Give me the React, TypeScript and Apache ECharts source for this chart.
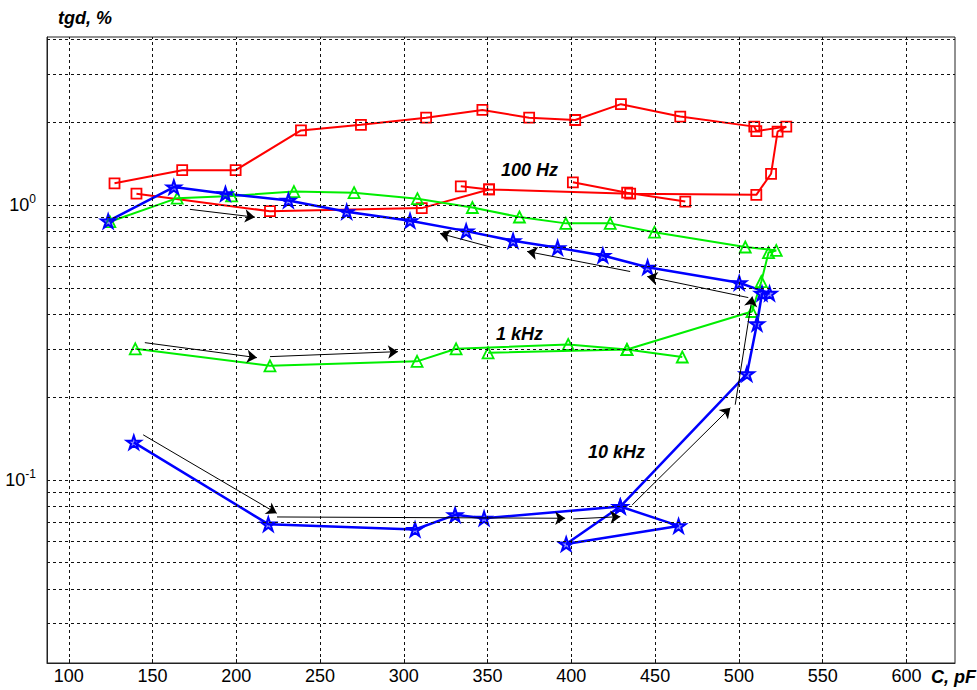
import React, { useEffect, useRef } from "react";
import * as echarts from "echarts";

// ---- axis ticks / grid values ----
const xTickValues = [100, 150, 200, 250, 300, 350, 400, 450, 500, 550, 600];
const yGridValues = [0.03, 0.04, 0.05, 0.06, 0.07, 0.08, 0.09, 0.1, 0.2, 0.3, 0.4, 0.5, 0.6, 0.7, 0.8, 0.9, 1, 2, 3, 4];

// ---- 100 Hz (red squares) ----
const red100HzMain: [number, number][] = [
  [127.3, 1.2], [167.7, 1.34], [199.6, 1.34], [238.6, 1.87], [274.4, 1.96], [313.3, 2.08],
  [346.9, 2.22], [374.8, 2.08], [402.3, 2.04], [429.6, 2.33], [465, 2.1], [509.2, 1.93],
  [510.4, 1.86], [528.3, 1.93], [523.1, 1.85], [519.2, 1.3], [510.4, 1.09], [435.1, 1.1],
  [350.9, 1.14], [334, 1.17],
];
const red100HzLow: [number, number][] = [
  [140.4, 1.1], [220.1, 0.95], [310.7, 0.975], [350.9, 1.14],
];
const red100HzTail: [number, number][] = [
  [400.9, 1.21], [433.3, 1.11], [468, 1.03],
];

// ---- 1 kHz (green triangles) ----
const green1kHzMain: [number, number][] = [
  [124.5, 0.87], [164.7, 1.06], [197.2, 1.08], [234.4, 1.12], [270.3, 1.11], [308.1, 1.055],
  [340.9, 0.98], [369, 0.905], [396.7, 0.858], [423.2, 0.858], [449.6, 0.797], [503.8, 0.704],
  [522.3, 0.684], [517.7, 0.672], [513.4, 0.527], [507.8, 0.41], [433.2, 0.298], [398.1, 0.311],
  [331.2, 0.3], [307.9, 0.27], [220.1, 0.26], [139.7, 0.3],
];
const green1kHzTail: [number, number][] = [
  [350.3, 0.29], [433.2, 0.298], [466.2, 0.28],
];

// ---- 10 kHz (blue stars) ----
const blue10kHz: [number, number][] = [
  [138.8, 0.137], [219.1, 0.069], [306.7, 0.066], [330.6, 0.0746], [347.9, 0.0725],
  [429.2, 0.08], [464, 0.068], [396.9, 0.0584], [429.2, 0.08], [504.8, 0.243], [510.8, 0.37],
  [513.8, 0.477], [518.3, 0.477], [500.2, 0.5215], [445.5, 0.594], [418.8, 0.6555],
  [391.8, 0.6995], [365.2, 0.7417], [337.2, 0.804], [303.7, 0.877], [265.9, 0.946],
  [231.1, 1.04], [193.5, 1.099], [162.7, 1.163], [123.5, 0.874],
];

// ---- arrows (from, to) ----
const arrowPairs: [[number, number], [number, number]][] = [
  [[172.3, 0.965], [211.1, 0.904]],
  [[505.6, 0.4607], [445.3, 0.5496]],
  [[435.1, 0.5732], [373.6, 0.6782]],
  [[352.7, 0.7012], [321.6, 0.7886]],
  [[436.3, 0.0811], [494.9, 0.183]],
  [[497.8, 0.1877], [508, 0.4647]],
  [[144.4, 0.1459], [224.1, 0.0756]],
  [[224.3, 0.0733], [396.3, 0.0725]],
  [[401.1, 0.0721], [429.2, 0.0735]],
  [[145.4, 0.3158], [212.3, 0.2785]],
  [[220.1, 0.2809], [296.5, 0.2929]],
];

const FONT = '"Liberation Sans", Arial, sans-serif';
const STAR = "path://M50 0 L61.23 34.55 L97.55 34.55 L68.17 55.9 L79.39 90.45 L50 69.1 L20.61 90.45 L31.83 55.9 L2.45 34.55 L38.77 34.55 Z";

function lineSeries(data: [number, number][], color: string, fill: string, symbol: string, size: number, lw: number, bw: number) {
  return {
    type: "line",
    data,
    symbol,
    symbolSize: size,
    symbolKeepAspect: true,
    showAllSymbol: true,
    lineStyle: { color, width: lw },
    itemStyle: { color: fill, borderColor: color, borderWidth: bw },
    emphasis: { disabled: true },
    z: 3,
  };
}

export default function App() {
  const ref = useRef<HTMLDivElement>(null);
  useEffect(() => {
    const chart = echarts.init(ref.current!, undefined, { renderer: "svg" });
    const option: any = {
      animation: false,
      backgroundColor: "#fff",
      grid: { left: 47, top: 37, width: 908, height: 626, show: true, borderColor: "#222", borderWidth: 1, backgroundColor: "transparent" },
      xAxis: {
        type: "value",
        min: 87,
        max: 629,
        splitNumber: 10,
        minInterval: 50,
        maxInterval: 50,
        axisLine: { show: true, lineStyle: { color: "#222", width: 1 } },
        axisTick: { show: true, inside: true, length: 4, lineStyle: { color: "#222" } },
        splitLine: { show: false },
        axisLabel: {
          showMinLabel: false,
          showMaxLabel: false,
          fontSize: 18,
          fontFamily: FONT,
          color: "#000",
          margin: 4,
          formatter: (v: number) => (Math.abs(v % 50) < 1e-6 ? String(v) : ""),
        },
      },
      yAxis: {
        type: "log",
        logBase: 10,
        min: 0.02156,
        max: 4.09,
        axisLine: { show: true, lineStyle: { color: "#222", width: 1 } },
        axisTick: { show: false },
        splitLine: { show: false },
        axisLabel: {
          margin: 11,
          showMinLabel: false,
          showMaxLabel: false,
          formatter: (v: number) => {
            const l = Math.log10(v);
            const e = Math.round(l);
            if (Math.abs(l - e) > 1e-6) return "";
            return `{b|10}{s|${e}}`;
          },
          rich: {
            b: { fontSize: 18, fontFamily: FONT, color: "#000", lineHeight: 24, verticalAlign: "middle" },
            s: { fontSize: 12, fontFamily: FONT, color: "#000", lineHeight: 12, verticalAlign: "top" },
          },
        },
      },
      series: [
        {
          type: "line",
          data: [],
          silent: true,
          z: 1,
          markLine: {
            silent: true,
            symbol: ["none", "none"],
            label: { show: false },
            lineStyle: { color: "#111", width: 1, type: [3, 3] },
            emphasis: { disabled: true },
            data: [
              ...yGridValues.map((v) => ({ yAxis: v })),
              ...xTickValues.map((v) => ({ xAxis: v })),
            ],
          },
        },
        lineSeries(red100HzMain, "#ff0000", "rgba(0,0,0,0)", "rect", 10, 2, 1.8),
        lineSeries(red100HzLow, "#ff0000", "rgba(0,0,0,0)", "rect", 10, 2, 1.8),
        lineSeries(red100HzTail, "#ff0000", "rgba(0,0,0,0)", "rect", 10, 2, 1.8),
        lineSeries(green1kHzMain, "#00ee00", "rgba(0,0,0,0)", "triangle", 11, 2, 1.8),
        lineSeries(green1kHzTail, "#00ee00", "rgba(0,0,0,0)", "triangle", 11, 2, 1.8),
        lineSeries(blue10kHz, "#0000ff", "rgba(0,0,255,0.45)", STAR, 14, 2.5, 2),
        {
          type: "line",
          data: [],
          silent: true,
          z: 4,
          color: "#000",
          markLine: {
            silent: true,
            symbol: ["none", "arrow"],
            symbolSize: 10,
            label: { show: false },
            lineStyle: { color: "#000", width: 1, type: "solid", opacity: 1 },
            itemStyle: { color: "#000" },
            emphasis: { disabled: true },
            data: arrowPairs.map(([a, b]) => [{ coord: a }, { coord: b }]),
          },
        },
      ],
      graphic: [
        { type: "text", x: 58, y: 18, style: { text: "tgd, %", font: `italic bold 18px ${FONT}`, fill: "#000", align: "left", verticalAlign: "middle" } },
        { type: "text", x: 931, y: 677, style: { text: "C, pF", font: `italic bold 18px ${FONT}`, fill: "#000", align: "left", verticalAlign: "middle" } },
        { type: "text", x: 501, y: 170, style: { text: "100 Hz", font: `italic bold 18px ${FONT}`, fill: "#000", align: "left", verticalAlign: "middle" } },
        { type: "text", x: 496, y: 334, style: { text: "1 kHz", font: `italic bold 18px ${FONT}`, fill: "#000", align: "left", verticalAlign: "middle" } },
        { type: "text", x: 588, y: 452, style: { text: "10 kHz", font: `italic bold 18px ${FONT}`, fill: "#000", align: "left", verticalAlign: "middle" } },
      ],
    };
    chart.setOption(option);
    return () => chart.dispose();
  }, []);
  return <div ref={ref} style={{ position: "fixed", left: 0, top: 0, width: 977, height: 690, background: "#fff" }} />;
}
